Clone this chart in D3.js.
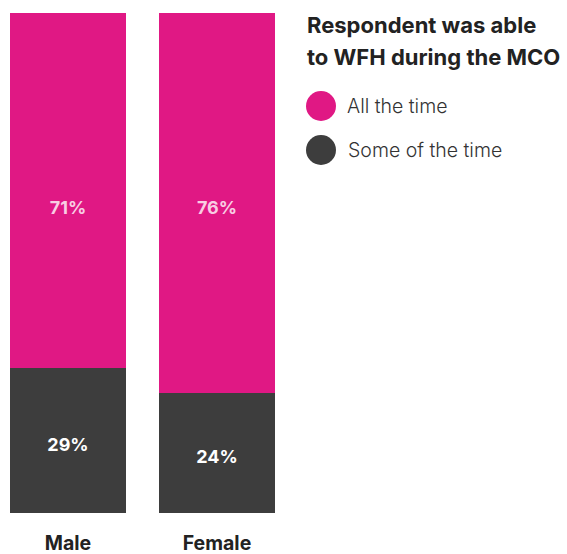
<!DOCTYPE html>
<html><head><meta charset="utf-8">
<script src="https://cdn.jsdelivr.net/npm/d3@7"></script>
<style>body{margin:0;background:#fff;}svg{display:block;}</style>
</head><body>
<script>
const categories = ["Male", "Female"];
const seriesNames = ["All the time", "Some of the time"];
const allTheTime = [71, 76];
const someOfTheTime = [29, 24];
const colors = ["#e01884", "#3d3d3d"];
const legendTitle = ["Respondent was able", "to WFH during the MCO"];

const W = 567, H = 554;
const svg = d3.select("body").append("svg").attr("width", W).attr("height", H);
const font = "Inter, 'Open Sans', sans-serif";

const x = d3.scaleBand().domain(categories).range([10, 275]).paddingInner(0.2215).paddingOuter(0);
const y = d3.scaleLinear().domain([0, 100]).range([513, 13]);

const data = categories.map((c, i) => ({cat: c, a: allTheTime[i], s: someOfTheTime[i]}));
const stack = d3.stack().keys(["s", "a"])(data);

svg.append("g").selectAll("g").data(stack).join("g")
  .attr("fill", d => d.key === "a" ? colors[0] : colors[1])
  .selectAll("rect").data(d => d).join("rect")
  .attr("x", d => x(d.data.cat))
  .attr("width", x.bandwidth())
  .attr("y", d => y(d[1]))
  .attr("height", d => y(d[0]) - y(d[1]));

// value labels
const g = svg.append("g").attr("font-family", font).attr("font-weight", 700).attr("font-size", 18).attr("text-anchor", "middle");
data.forEach(d => {
  g.append("text").attr("x", x(d.cat) + x.bandwidth()/2).attr("y", y(61)).attr("dy", "0.35em")
    .attr("fill", "#f8cde3").text(d.a + "%");
  g.append("text").attr("x", x(d.cat) + x.bandwidth()/2).attr("y", (y(0) + y(d.s))/2 + 4).attr("dy", "0.35em")
    .attr("fill", "#ffffff").text(d.s + "%");
});

// category axis labels
svg.append("g").selectAll("text").data(categories).join("text")
  .attr("x", d => x(d) + x.bandwidth()/2).attr("y", 550)
  .attr("text-anchor", "middle").attr("font-family", font).attr("font-weight", 700)
  .attr("font-size", 19.5).attr("fill", "#222").text(d => d);

// legend
const lg = svg.append("g").attr("font-family", font);
lg.selectAll("text.t").data(legendTitle).join("text").attr("class", "t")
  .attr("x", 307).attr("y", (d, i) => 33 + i * 32)
  .attr("font-weight", 700).attr("font-size", 22).attr("fill", "#222").text(d => d);
const items = lg.selectAll("g.i").data(seriesNames).join("g").attr("class", "i")
  .attr("transform", (d, i) => `translate(321,${106 + i * 44})`);
items.append("circle").attr("r", 15).attr("fill", (d, i) => colors[i]);
items.append("text").attr("x", (d, i) => i === 0 ? 26 : 27).attr("dy", "0.35em")
  .attr("font-size", 19.5).attr("font-weight", 300).attr("fill", "#333").text(d => d);
</script>
</body></html>
